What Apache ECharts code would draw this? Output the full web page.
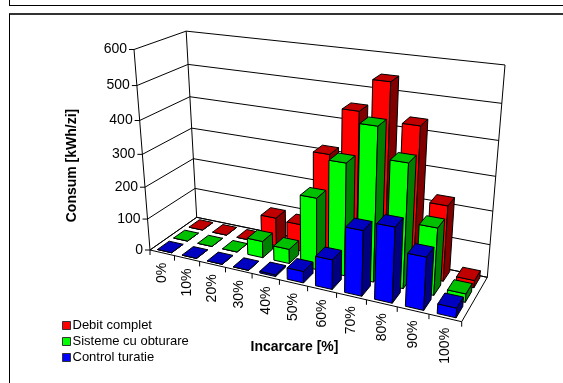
<!DOCTYPE html>
<html>
<head>
<meta charset="utf-8">
<style>html,body{margin:0;padding:0;background:#fff}#chart{width:563px;height:383px}</style>
<script src="https://cdn.jsdelivr.net/npm/echarts@6/dist/echarts.min.js"></script>
</head>
<body>
<div id="chart"></div>
<script>
var categories = ['0%', '10%', '20%', '30%', '40%', '50%', '60%', '70%', '80%', '90%', '100%'];
var valueTicks = [0, 100, 200, 300, 400, 500, 600];
var debitComplet = [0, 0, 0, 90, 85, 316, 452, 543, 435, 225, 22];
var sistemeObturare = [0, 0, 0, 52, 45, 218, 334, 448, 362, 197, 25];
var controlTuratie = [0, 0, 0, 0, 5, 35, 89, 192, 219, 153, 28];

// corners of the 3d box on the page, u along categories, v into the page, w up
var floorFL = [150, 250], floorFR = [461.7, 321.7], floorBR = [487.3, 277.3], floorBL = [196.7, 217.3];
var topFL = [134, 49.5], topBL = [186.5, 31.5], topBR = [505, 65];
var barWidth = 0.58, barDepth = 0.72;
var W = 563, H = 383;
var font = '14px "Liberation Sans"';
var boldFont = 'bold 14px "Liberation Sans"';

var persp = (function () {
    var x0 = floorFL[0], y0 = floorFL[1], x1 = floorFR[0], y1 = floorFR[1];
    var x2 = floorBR[0], y2 = floorBR[1], x3 = floorBL[0], y3 = floorBL[1];
    var dx1 = x1 - x2, dx2 = x3 - x2, sx = x0 - x1 + x2 - x3;
    var dy1 = y1 - y2, dy2 = y3 - y2, sy = y0 - y1 + y2 - y3;
    var den = dx1 * dy2 - dx2 * dy1;
    var g = (sx * dy2 - dx2 * sy) / den, h = (dx1 * sy - sx * dy1) / den;
    var a = x1 - x0 + g * x1, b = x3 - x0 + h * x3, c = x0;
    var d = y1 - y0 + g * y1, e = y3 - y0 + h * y3, f = y0;
    var D = g + h + 1;
    var i = (a + b + c + topFL[0] - x0 - topBR[0] * D) / (topBR[0] - topFL[0]);
    var a3 = topFL[0] * (1 + i) - x0, b3 = topFL[1] * (1 + i) - y0;
    return function (u, v, w) {
        var q = g * u + h * v + i * w + 1;
        return [(a * u + b * v + a3 * w + c) / q, (d * u + e * v + b3 * w + f) / q];
    };
})();

function poly(points, fill, width) {
    return {
        type: 'polygon',
        shape: { points: points },
        style: { fill: fill, stroke: '#000', lineWidth: width || 1, lineJoin: 'round' }
    };
}
function line(p, q, width) {
    return {
        type: 'line',
        shape: { x1: p[0], y1: p[1], x2: q[0], y2: q[1] },
        style: { stroke: '#000', lineWidth: width || 1 }
    };
}
function text(str, x, y, f, align, rot) {
    return {
        type: 'text', x: x, y: y, rotation: rot || 0,
        style: { text: str, font: f, fill: '#000', align: align, verticalAlign: 'middle' }
    };
}

// the hidden cartesian grid fills the page, so px / W and px / H give box fractions
function renderBars(row, front, top, side) {
    return function (params, api) {
        var c = api.coord([api.value(0), api.value(1)]);
        var band = api.size([1, 0])[0] / W;
        var u = c[0] / W, w = 1 - c[1] / H;
        var u0 = u - band * barWidth / 2, u1 = u + band * barWidth / 2;
        var v0 = (row + 0.5 - barDepth / 2) / 3, v1 = (row + 0.5 + barDepth / 2) / 3;
        return {
            type: 'group',
            children: [
                poly([persp(u0, v0, 0), persp(u1, v0, 0), persp(u1, v0, w), persp(u0, v0, w)], front),
                poly([persp(u1, v0, 0), persp(u1, v1, 0), persp(u1, v1, w), persp(u1, v0, w)], side),
                poly([persp(u0, v0, w), persp(u1, v0, w), persp(u1, v1, w), persp(u0, v1, w)], top)
            ]
        };
    };
}

function renderBox(params, api) {
    var kids = [];
    kids.push(poly([persp(0, 0, 0), persp(1, 0, 0), persp(1, 1, 0), persp(0, 1, 0)], '#fff'));
    valueTicks.forEach(function (t) {
        var w = 1 - api.coord([0, t])[1] / H;
        var p = persp(0, 0, w);
        kids.push(line(p, persp(0, 1, w)));
        kids.push(line(persp(0, 1, w), persp(1, 1, w)));
        kids.push(line([p[0] - 5, p[1]], p));
        kids.push(text(String(t), p[0] - 7, p[1], font, 'right'));
    });
    var edge = [persp(0, 0, 0), persp(0, 0, 1), persp(0, 1, 0), persp(0, 1, 1), persp(1, 1, 0), persp(1, 1, 1)];
    kids.push(line(edge[0], edge[1]), line(edge[2], edge[3]), line(edge[4], edge[5]));
    var band = api.size([1, 0])[0] / W;
    categories.forEach(function (name, k) {
        var u = api.coord([k, 0])[0] / W;
        var p = persp(u - band / 2, 0, 0);
        kids.push(line(p, [p[0], p[1] + 5]));
        var m = persp(u, 0, 0);
        kids.push(text(name, m[0], m[1] + 10, font, 'right', Math.PI / 2));
    });
    var last = persp(1, 0, 0);
    kids.push(line(last, [last[0], last[1] + 5]));
    kids.push(text('Consum [kWh/zi]', 72, 165.5, boldFont, 'center', Math.PI / 2));
    kids.push(text('Incarcare [%]', 294.5, 347, boldFont, 'center'));
    return { type: 'group', children: kids };
}

function barSeries(name, values, row, front, top, side) {
    return {
        name: name, type: 'custom', coordinateSystem: 'cartesian2d',
        itemStyle: { color: front },
        encode: { x: 0, y: 1 },
        data: values.map(function (v, k) { return [k, v]; }),
        renderItem: renderBars(row, front, top, side),
        silent: true, animation: false
    };
}

var chart = echarts.init(document.getElementById('chart'));
chart.setOption({
    animation: false,
    backgroundColor: '#fff',
    grid: { left: 0, right: 0, top: 0, bottom: 0 },
    xAxis: { type: 'category', data: categories, show: false },
    yAxis: { type: 'value', min: 0, max: 600, interval: 100, show: false },
    legend: {
        orient: 'vertical', left: 62, top: 319, padding: 0, itemGap: 3,
        itemWidth: 8, itemHeight: 8, icon: 'rect',
        itemStyle: { borderColor: '#333', borderWidth: 1 },
        textStyle: { fontFamily: 'Liberation Sans', fontSize: 13, color: '#000', padding: [0, 0, 0, -3], lineHeight: 13 },
        data: ['Debit complet', 'Sisteme cu obturare', 'Control turatie']
    },
    graphic: [
        { type: 'line', shape: { x1: 9.5, y1: 0, x2: 9.5, y2: 5 }, style: { stroke: '#000', lineWidth: 1 } },
        { type: 'line', shape: { x1: 9, y1: 5.5, x2: 563, y2: 5.5 }, style: { stroke: '#000', lineWidth: 1 } },
        { type: 'line', shape: { x1: 9, y1: 14, x2: 563, y2: 14 }, style: { stroke: '#333', lineWidth: 2 } },
        { type: 'line', shape: { x1: 9.5, y1: 14, x2: 9.5, y2: 383 }, style: { stroke: '#000', lineWidth: 1 } }
    ],
    series: [
        { type: 'custom', coordinateSystem: 'cartesian2d', data: [[0, 0]], renderItem: renderBox, silent: true, animation: false },
        barSeries('Debit complet', debitComplet, 2, '#ff0000', '#c00000', '#800000'),
        barSeries('Sisteme cu obturare', sistemeObturare, 1, '#00ff00', '#00c000', '#008000'),
        barSeries('Control turatie', controlTuratie, 0, '#0000ff', '#0000c0', '#000080')
    ]
});
</script>
</body>
</html>
